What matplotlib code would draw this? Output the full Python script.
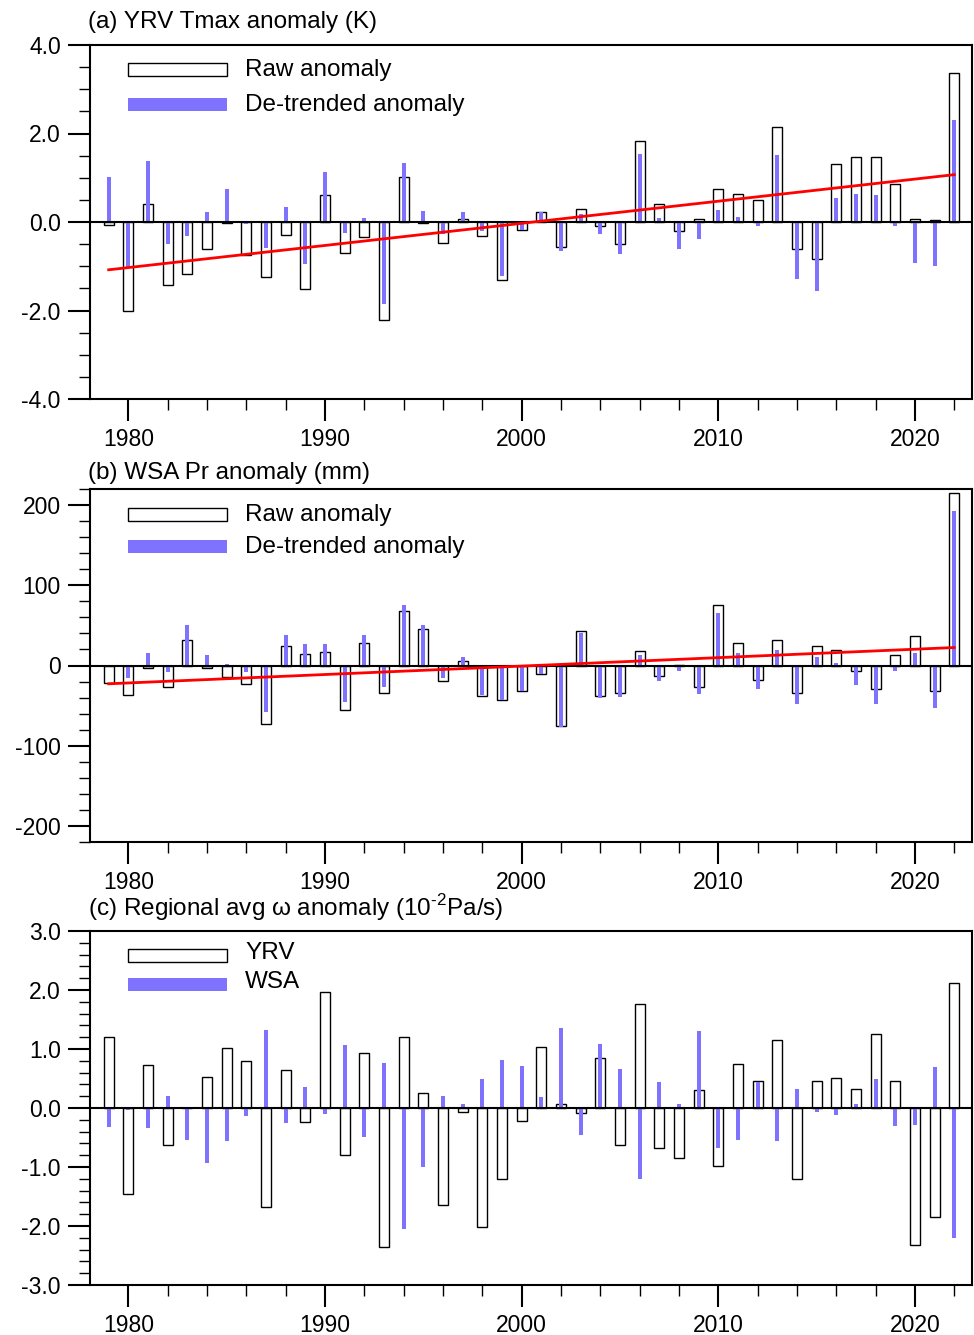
import matplotlib
matplotlib.use("Agg")
import matplotlib.pyplot as plt
from matplotlib.patches import Rectangle
from matplotlib.ticker import MultipleLocator, FormatStrFormatter
import numpy as np

plt.rcParams['font.family'] = ['Liberation Sans', 'DejaVu Sans']
plt.rcParams['mathtext.fontset'] = 'custom'
plt.rcParams['mathtext.rm'] = 'Liberation Sans'

years = np.arange(1979, 2023)

# (a) YRV Tmax anomaly (K)
tmax_raw = [-0.06, -2.02, 0.40, -1.42, -1.18, -0.62, -0.03, -0.75, -1.25, -0.29,
            -1.52, 0.60, -0.71, -0.35, -2.22, 1.02, -0.02, -0.48, 0.06, -0.32,
            -1.30, -0.19, 0.23, -0.57, 0.29, -0.09, -0.49, 1.82, 0.41, -0.21,
            0.06, 0.75, 0.63, 0.49, 2.14, -0.61, -0.84, 1.32, 1.46, 1.48,
            0.85, 0.06, 0.05, 3.37]
tmax_detr = [1.02, -1.01, 1.38, -0.50, -0.32, 0.23, 0.75, -0.05, -0.59, 0.34,
             -0.95, 1.13, -0.24, 0.09, -1.85, 1.33, 0.25, -0.26, 0.23, -0.20,
             -1.22, -0.18, 0.23, -0.65, 0.18, -0.26, -0.72, 1.54, 0.09, -0.61,
             -0.38, 0.27, 0.11, -0.08, 1.51, -1.28, -1.55, 0.54, 0.63, 0.61,
             -0.08, -0.92, -0.99, 2.31]
tmax_trend = [-1.08, 1.07]

# (b) WSA Pr anomaly (mm)
pr_raw = [-21.6, -36.5, -3.7, -27.0, 32.0, -3.7, -14.5, -23.3, -72.3, 24.9,
          14.1, 17.0, -55.2, 28.2, -34.1, 68.1, 45.7, -19.9, 5.8, -38.6,
          -43.6, -31.6, -10.4, -74.8, 43.2, -37.4, -34.5, 18.3, -12.9, 0.5,
          -26.6, 75.6, 27.8, -17.9, 31.2, -34.1, 24.5, 19.9, -6.6, -29.1,
          12.9, 36.6, -31.6, 215.2]
pr_detr = [0.5, -15.0, 16.2, -8.3, 51.1, 13.7, 2.1, -8.3, -58.2, 38.6,
           26.2, 27.4, -45.7, 37.4, -27.4, 74.8, 51.1, -15.8, 10.0, -36.5,
           -42.8, -31.2, -10.4, -76.8, 41.1, -40.7, -39.5, 12.5, -19.5, -7.1,
           -35.7, 66.0, 16.2, -29.5, 18.7, -48.2, 10.0, 3.7, -24.9, -48.2,
           -7.1, 16.2, -53.2, 193.2]
pr_trend = [-22.8, 22.4]

# (c) Regional avg omega anomaly (10^-2 Pa/s)
omega_yrv = [1.20, -1.45, 0.73, -0.62, 0.0, 0.52, 1.02, 0.79, -1.67, 0.65,
             -0.23, 1.97, -0.80, 0.93, -2.36, 1.21, 0.25, -1.64, -0.06, -2.01,
             -1.21, -0.22, 1.04, 0.07, -0.08, 0.84, -0.63, 1.76, -0.68, -0.84,
             0.30, -0.99, 0.75, 0.46, 1.16, -1.21, 0.45, 0.51, 0.32, 1.26,
             0.45, -2.33, -1.84, 2.12]
omega_wsa = [-0.32, -0.03, -0.34, 0.21, -0.55, -0.93, -0.56, -0.14, 1.32, -0.25,
             0.35, -0.10, 1.06, -0.49, 0.76, -2.05, -1.00, 0.20, 0.07, 0.50,
             0.81, 0.72, 0.18, 1.35, -0.45, 1.08, 0.66, -1.20, 0.44, 0.06,
             1.30, -0.68, -0.55, 0.44, -0.56, 0.32, -0.07, -0.12, 0.06, 0.50,
             -0.31, -0.29, 0.69, -2.20]

BLUE = '#7f72ff'
W, H = 974, 1335


def make_axes(top, bottom):
    return fig.add_axes([90 / W, 1 - bottom / H, 882 / W, (bottom - top) / H])


def style_axes(ax, ylim, major, minor, fmt):
    ax.set_xlim(1978.05, 2022.9)
    ax.set_ylim(*ylim)
    ax.xaxis.set_major_locator(MultipleLocator(10))
    ax.xaxis.set_minor_locator(MultipleLocator(2))
    ax.yaxis.set_major_locator(MultipleLocator(major))
    ax.yaxis.set_minor_locator(MultipleLocator(minor))
    ax.yaxis.set_major_formatter(FormatStrFormatter(fmt))
    ax.tick_params(which='major', direction='out', length=16, width=1.5,
                   labelsize=16.5, pad=5)
    ax.tick_params(which='minor', direction='out', length=8, width=1.0)
    ax.tick_params(top=False, right=False)
    for s in ax.spines.values():
        s.set_linewidth(1.5)
    ax.axhline(0, color='black', lw=1.5, zorder=4)


def draw_key(ax, labels, raw_top, blue_top, text_y):
    # key boxes placed by pixel offset from the top-left of the axes
    h = ax.get_position().height * H
    w = ax.get_position().width * W
    x0 = (128 - 90) / w
    bw = (227 - 128) / w
    ax.add_patch(Rectangle((x0, 1 - (raw_top + 13) / h), bw, 13 / h,
                           transform=ax.transAxes, facecolor='white',
                           edgecolor='black', lw=1.0, zorder=6))
    ax.add_patch(Rectangle((x0, 1 - (blue_top + 13) / h), bw, 13 / h,
                           transform=ax.transAxes, facecolor=BLUE,
                           edgecolor='none', zorder=6))
    for lab, ty in zip(labels, text_y):
        ax.text((245 - 90) / w, 1 - ty / h, lab, transform=ax.transAxes,
                ha='left', va='center', fontsize=17.5, zorder=6)


fig = plt.figure(figsize=(W / 100, H / 100), dpi=100)

# panel (a)
ax1 = make_axes(45, 399)
ax1.bar(years, tmax_raw, width=0.5, facecolor='white', edgecolor='black', lw=1.0, zorder=2)
ax1.bar(years, tmax_detr, width=0.2, color=BLUE, zorder=3)
ax1.plot([years[0], years[-1]], tmax_trend, color='red', lw=2.0, zorder=5)
style_axes(ax1, (-4, 4), 2, 0.5, '%.1f')
draw_key(ax1, ['Raw anomaly', 'De-trended anomaly'], 18, 53, [25, 60])
fig.text(88 / W, 1 - 22 / H, '(a) YRV Tmax anomaly (K)', fontsize=17.5, va='center')

# panel (b)
ax2 = make_axes(489, 842)
ax2.bar(years, pr_raw, width=0.5, facecolor='white', edgecolor='black', lw=1.0, zorder=2)
ax2.bar(years, pr_detr, width=0.2, color=BLUE, zorder=3)
ax2.plot([years[0], years[-1]], pr_trend, color='red', lw=2.0, zorder=5)
style_axes(ax2, (-220, 220), 100, 20, '%d')
draw_key(ax2, ['Raw anomaly', 'De-trended anomaly'], 19, 51, [26, 58])
fig.text(88 / W, 1 - 473 / H, '(b) WSA Pr anomaly (mm)', fontsize=17.5, va='center')

# panel (c)
ax3 = make_axes(931, 1285)
ax3.bar(years, omega_yrv, width=0.5, facecolor='white', edgecolor='black', lw=1.0, zorder=2)
ax3.bar(years, omega_wsa, width=0.2, color=BLUE, zorder=3)
style_axes(ax3, (-3, 3), 1, 0.2, '%.1f')
draw_key(ax3, ['YRV', 'WSA'], 18, 47, [22, 51])
fig.text(88 / W, 1 - 908 / H,
         '(c) Regional avg \u03c9 anomaly (10$^{\\text{-2}}$Pa/s)',
         fontsize=17.5, va='center')

fig.savefig('out.png', dpi=100)
